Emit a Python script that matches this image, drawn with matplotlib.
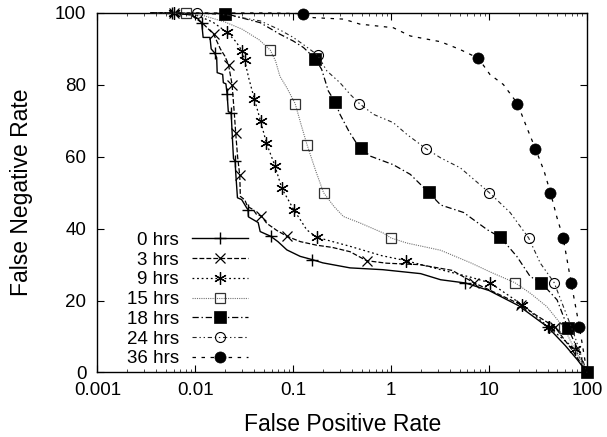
import numpy as np
import matplotlib
matplotlib.use("Agg")
import matplotlib.pyplot as plt
from matplotlib.ticker import FixedLocator, LogLocator, NullFormatter

plt.rcParams['font.family'] = ['Liberation Sans', 'DejaVu Sans']
plt.rcParams['lines.scale_dashes'] = False

labels = ["0 hrs", "3 hrs", "9 hrs", "15 hrs", "18 hrs", "24 hrs", "36 hrs"]

# each curve: false positive rate, false negative rate, indices carrying a marker
fp_0 = [0.0035, 0.0058, 0.009, 0.0105, 0.0116, 0.0120, 0.0141, 0.0145, 0.0157, 0.0165, 0.0167, 0.019,
        0.0193, 0.0205, 0.0211, 0.0217, 0.0232, 0.0238, 0.0245, 0.0255, 0.0258, 0.0269, 0.0297, 0.0334,
        0.0345, 0.0348, 0.0438, 0.0459, 0.0587, 0.0697, 0.086, 0.1177, 0.156, 0.2, 0.38, 0.82, 2.0, 3.2,
        5.73, 10, 20, 39.9, 60, 80, 100]
fn_0 = [100, 99.9, 99.5, 98.5, 97.3, 93.2, 93.2, 90, 88.9, 87.6, 83.4, 82.9,
        80.6, 80.3, 77.4, 72.5, 72.3, 66, 59.5, 58.7, 55.7, 48.6, 48.1, 45.8,
        45.3, 43.3, 41.7, 39.2, 37.9, 36.4, 34.1, 32.3, 31.4, 30.5, 29.1, 28.6, 27.5, 25.8,
        24.9, 22.8, 18.6, 12.6, 7.5, 3.5, 0]
mk_0 = [1, 4, 8, 14, 16, 19, 24, 28, 32, 38, 41]

fp_3 = [0.0035, 0.0061, 0.009, 0.012, 0.01535, 0.018, 0.02, 0.0218, 0.0237, 0.025, 0.0258, 0.027,
        0.0284, 0.0288, 0.032, 0.034, 0.039, 0.042, 0.0473, 0.0535, 0.068, 0.0861, 0.118, 0.174,
        0.25, 0.38, 0.561, 0.9, 1.95, 4.2, 7.08, 12, 21.4, 30, 47.2, 70, 100]
fn_3 = [100, 100, 99.5, 97, 94.1, 90, 88, 85.6, 80.1, 72, 66.7, 60,
        54.8, 49, 48, 46.2, 45.3, 44, 43.5, 41.5, 39.5, 37.9, 36.4, 35.4,
        34.8, 33.6, 31.1, 30.4, 30, 28.4, 24.9, 22, 18.8, 16, 12.6, 6.4, 0]
mk_3 = [1, 4, 7, 8, 10, 12, 18, 21, 26, 30, 32, 34]

fp_9 = [0.0035, 0.0061, 0.01, 0.015, 0.0211, 0.026, 0.0299, 0.0318, 0.035, 0.040, 0.0464, 0.0532,
        0.0653, 0.0764, 0.102, 0.118, 0.137, 0.174, 0.38, 0.8, 1.42, 3.2, 6.5, 10.3, 21.9, 40.7,
        76.3, 100]
fn_9 = [100, 100, 99.5, 97.5, 94.6, 92, 89.5, 87, 82, 76.1, 69.9, 63.8,
        57.3, 51.2, 45.1, 42.5, 39.7, 37.6, 35.1, 32.5, 31.1, 28.6, 26.5, 24.9, 18.8, 12.6,
        6.4, 0]
mk_9 = [1, 4, 6, 7, 9, 10, 11, 12, 13, 14, 17, 20, 23, 24, 25, 26]

fp_15 = [0.0035, 0.00804, 0.012, 0.02, 0.03, 0.045, 0.0581, 0.066, 0.073, 0.086, 0.1045, 0.12,
         0.138, 0.17, 0.204, 0.26, 0.325, 0.48, 0.83, 1.0, 1.45, 3.2, 6.5, 10.2, 18.3, 26.5,
         39, 57.9, 80, 100]
fn_15 = [100, 99.9, 99.3, 97.5, 95.5, 92.5, 89.7, 86.6, 82.4, 79.2, 74.8, 69,
         63.4, 56, 50.0, 46.2, 43.4, 41.6, 38.8, 37.4, 36, 34, 30.5, 28, 25.0, 22,
         18.3, 12.5, 5, 0]
mk_15 = [1, 6, 10, 12, 14, 19, 24, 27]

fp_18 = [0.0035, 0.0201, 0.046, 0.073, 0.1, 0.127, 0.1675, 0.195, 0.228, 0.268, 0.30, 0.37,
         0.43, 0.494, 0.61, 1.05, 1.57, 2.41, 3.2, 5.5, 9.6, 13.05, 19.2, 26.3, 34.0, 49.5,
         63.6, 81, 100]
fn_18 = [100, 99.85, 97.3, 94.1, 92.2, 90.4, 87.3, 84.3, 78.3, 75.2, 71.8, 67.1,
         64.3, 62.5, 60.2, 57.8, 55.1, 50.1, 46.6, 44.5, 39.7, 37.6, 32.3, 26.7, 25.0, 20.2,
         12.5, 6.3, 0]
mk_18 = [1, 6, 9, 13, 17, 21, 24, 26, 28]

fp_24 = [0.0035, 0.0103, 0.02, 0.046, 0.073, 0.1, 0.13, 0.177, 0.22, 0.3, 0.38, 0.474,
         0.66, 1.05, 1.45, 2.26, 3.2, 5.1, 10.07, 16.4, 25.4, 33.4, 46.2, 57.5, 73, 100]
fn_24 = [100, 100, 99.5, 97.8, 95.3, 93.2, 91, 88.3, 83.9, 80.6, 77.4, 74.8,
         71.8, 69.5, 66.2, 62.3, 59.7, 56.9, 50.0, 44.5, 37.4, 30.4, 25.0, 18.3, 11, 0]
mk_24 = [1, 7, 11, 15, 18, 20, 22]

fp_36 = [0.0035, 0.06, 0.125, 0.16, 0.325, 0.48, 1.05, 1.57, 3.2, 5.0, 7.78, 10.2,
         14, 19.5, 24.4, 29.7, 36.5, 42.4, 49.5, 57.1, 68.9, 83.8, 100]
fn_36 = [100, 100, 99.8, 98.7, 98.3, 96.9, 95.9, 93.6, 92, 89.9, 87.4, 82.9,
         80.1, 74.8, 68, 62.3, 56, 50.0, 43, 37.5, 25.0, 12.6, 0]
mk_36 = [2, 10, 13, 15, 17, 19, 20, 21]

curves = [(fp_0, fn_0, mk_0), (fp_3, fn_3, mk_3), (fp_9, fn_9, mk_9), (fp_15, fn_15, mk_15),
          (fp_18, fn_18, mk_18), (fp_24, fn_24, mk_24), (fp_36, fn_36, mk_36)]

styles = [
    dict(ls='-', lw=1.0, color='black', marker='+', ms=9, mew=1.0, mfc='none'),
    dict(ls=(0, (3.5, 1.5)), lw=0.9, color='black', marker='x', ms=7, mew=0.9, mfc='none'),
    dict(ls=(0, (1.3, 2.0)), lw=0.9, color='black', marker=(6, 2, 0), ms=9, mew=0.9, mfc='none'),
    dict(ls=(0, (0.8, 0.8)), lw=0.8, color='0.45', marker='s', ms=7.5, mew=0.9, mfc='none', mec='0.2'),
    dict(ls=(0, (4.5, 2, 1, 2)), lw=0.9, color='black', marker='s', ms=8.5, mew=0.5, mfc='black'),
    dict(ls=(0, (3, 2, 1, 2, 1, 2)), lw=0.8, color='0.15', marker='o', ms=7.2, mew=0.8, mfc='none', mec='black'),
    dict(ls=(0, (2.5, 4)), lw=0.9, color='black', marker='o', ms=8, mew=0.5, mfc='black'),
]

fig = plt.figure(figsize=(6.07, 4.37), dpi=100)
ax = fig.add_axes([0.1606, 0.1476, 0.8064, 0.8227])

for (x, y, mk), lab, st in zip(curves, labels, styles):
    ax.plot(x, y, markevery=mk, label=lab, clip_on=False, zorder=3, **st)

ax.set_xscale('log')
ax.set_xlim(0.001, 100)
ax.set_ylim(0, 100)
ax.xaxis.set_major_locator(FixedLocator([0.001, 0.01, 0.1, 1, 10, 100]))
ax.set_xticklabels(["0.001", "0.01", "0.1", "1", "10", "100"])
ax.xaxis.set_minor_locator(LogLocator(base=10, subs=np.arange(2, 10)))
ax.xaxis.set_minor_formatter(NullFormatter())
ax.set_yticks([0, 20, 40, 60, 80, 100])

ax.tick_params(which='both', direction='in', top=True, right=True, labelsize=13.5, width=0.8)
ax.tick_params(axis='x', which='major', length=5, pad=7)
ax.tick_params(axis='x', which='minor', length=2.5, width=0.5)
ax.tick_params(axis='y', which='major', length=5, pad=8)
for s in ax.spines.values():
    s.set_linewidth(1.0)

ax.set_xlabel("False Positive Rate", fontsize=16.5, labelpad=10)
ax.set_ylabel("False Negative Rate", fontsize=16.5, labelpad=16)

ax.legend(loc='lower right', bbox_to_anchor=(0.3075, 0.014), frameon=False, markerfirst=False,
          numpoints=1, fontsize=13.5, handlelength=3.0, handletextpad=0.7, labelspacing=0.14,
          borderpad=0, borderaxespad=0)

fig.savefig("out.png", dpi=100)
